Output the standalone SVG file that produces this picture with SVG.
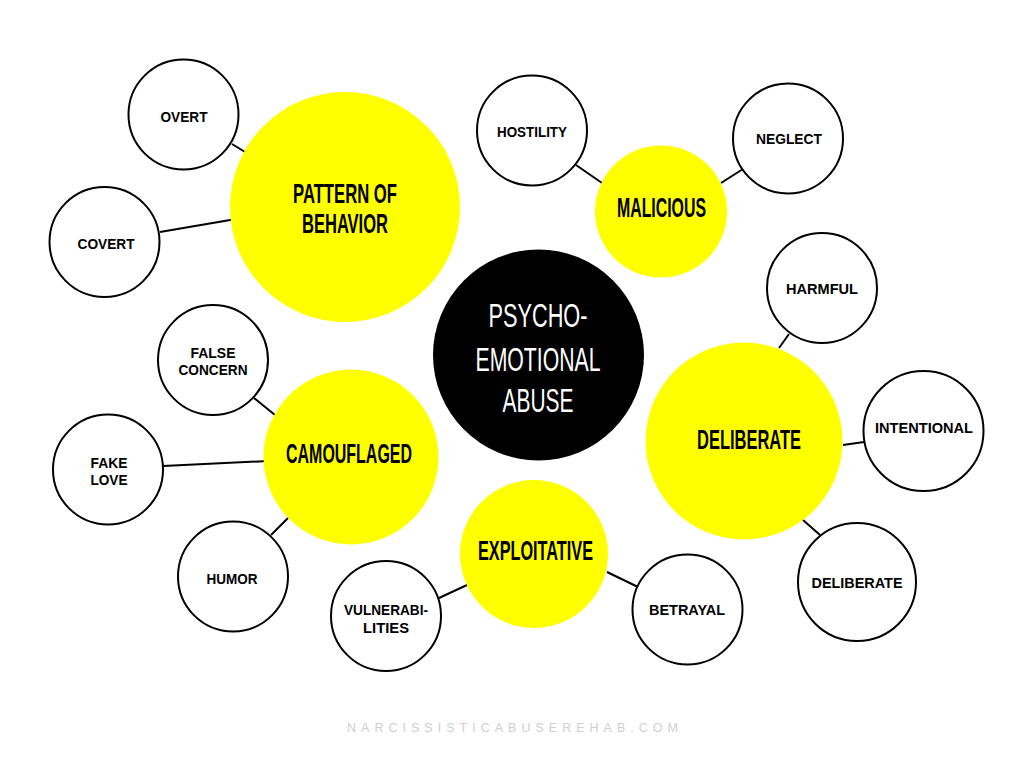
<svg xmlns="http://www.w3.org/2000/svg" width="1024" height="768" viewBox="0 0 1024 768">
<style>
.leaf{fill:#fff;stroke:#000;stroke-width:2}
.cat{fill:#ffff00}
.hub{fill:#000}
.lt{font-family:"Liberation Sans",Arial,sans-serif;font-weight:bold;font-size:15px;fill:#000;text-anchor:middle}
.ct{font-family:"Liberation Sans",Arial,sans-serif;font-weight:bold;font-size:28px;fill:#000;text-anchor:middle}
.ht{font-family:"Liberation Sans",Arial,sans-serif;font-size:33.5px;fill:#fff;text-anchor:middle}
.ft{font-family:"Liberation Sans",Arial,sans-serif;font-size:12.5px;fill:#cfcfcf;text-anchor:middle}
#connectors line{stroke:#000;stroke-width:2}
</style>
<rect width="1024" height="768" fill="#fff"/>
<g id="connectors">
<line x1="232" y1="144" x2="245" y2="152"/>
<line x1="160" y1="232" x2="236" y2="219"/>
<line x1="576" y1="165" x2="602" y2="183"/>
<line x1="721" y1="183" x2="743" y2="169"/>
<line x1="789" y1="334" x2="779" y2="348"/>
<line x1="843" y1="445" x2="864" y2="442"/>
<line x1="803" y1="520" x2="820" y2="535"/>
<line x1="607" y1="572" x2="638" y2="587"/>
<line x1="439" y1="598" x2="467" y2="585"/>
<line x1="254" y1="398" x2="275" y2="415"/>
<line x1="163" y1="466" x2="268" y2="461"/>
<line x1="271" y1="535" x2="288" y2="518"/>
</g>
<g id="hub">
<circle class="hub" cx="538.5" cy="355" r="105.5"/>
<text class="ht" x="538" y="327" textLength="99" lengthAdjust="spacingAndGlyphs">PSYCHO-</text>
<text class="ht" x="538" y="371" textLength="125" lengthAdjust="spacingAndGlyphs">EMOTIONAL</text>
<text class="ht" x="538" y="412" textLength="71" lengthAdjust="spacingAndGlyphs">ABUSE</text>
</g>
<g id="pattern">
<circle class="cat" cx="345" cy="207" r="115"/>
<text class="ct" x="345" y="203" textLength="104" lengthAdjust="spacingAndGlyphs">PATTERN OF</text>
<text class="ct" x="345" y="233" textLength="86" lengthAdjust="spacingAndGlyphs">BEHAVIOR</text>
</g>
<g id="malicious">
<circle class="cat" cx="661" cy="211.5" r="66"/>
<text class="ct" x="661.5" y="217" textLength="89" lengthAdjust="spacingAndGlyphs">MALICIOUS</text>
</g>
<g id="deliberate">
<circle class="cat" cx="744" cy="441" r="98.5"/>
<text class="ct" x="749" y="449" textLength="104" lengthAdjust="spacingAndGlyphs">DELIBERATE</text>
</g>
<g id="exploitative">
<circle class="cat" cx="534" cy="554" r="74"/>
<text class="ct" x="535.5" y="560" textLength="115" lengthAdjust="spacingAndGlyphs">EXPLOITATIVE</text>
</g>
<g id="camouflaged">
<circle class="cat" cx="351" cy="457" r="87.5"/>
<text class="ct" x="349" y="463" textLength="126" lengthAdjust="spacingAndGlyphs">CAMOUFLAGED</text>
</g>
<g id="overt">
<circle class="leaf" cx="183.5" cy="114.5" r="55"/>
<text class="lt" x="184" y="121.5" textLength="47" lengthAdjust="spacingAndGlyphs">OVERT</text>
</g>
<g id="covert">
<circle class="leaf" cx="104.5" cy="242" r="55"/>
<text class="lt" x="106" y="248.5" textLength="57" lengthAdjust="spacingAndGlyphs">COVERT</text>
</g>
<g id="hostility">
<circle class="leaf" cx="532" cy="130.5" r="55"/>
<text class="lt" x="532" y="136.5" textLength="70" lengthAdjust="spacingAndGlyphs">HOSTILITY</text>
</g>
<g id="neglect">
<circle class="leaf" cx="788" cy="138.5" r="55"/>
<text class="lt" x="789" y="143.5" textLength="66" lengthAdjust="spacingAndGlyphs">NEGLECT</text>
</g>
<g id="harmful">
<circle class="leaf" cx="822" cy="288" r="55"/>
<text class="lt" x="822" y="293.5" textLength="72" lengthAdjust="spacingAndGlyphs">HARMFUL</text>
</g>
<g id="intentional">
<circle class="leaf" cx="923.5" cy="431" r="60"/>
<text class="lt" x="924" y="432.5" textLength="98" lengthAdjust="spacingAndGlyphs">INTENTIONAL</text>
</g>
<g id="deliberate-leaf">
<circle class="leaf" cx="857" cy="582" r="59"/>
<text class="lt" x="857" y="587.5" textLength="91" lengthAdjust="spacingAndGlyphs">DELIBERATE</text>
</g>
<g id="betrayal">
<circle class="leaf" cx="687.5" cy="609.5" r="55"/>
<text class="lt" x="687" y="614.5" textLength="76" lengthAdjust="spacingAndGlyphs">BETRAYAL</text>
</g>
<g id="vulnerabilities">
<circle class="leaf" cx="386" cy="616" r="55"/>
<text class="lt" x="386" y="614.5" textLength="84" lengthAdjust="spacingAndGlyphs">VULNERABI-</text>
<text class="lt" x="386" y="632.5" textLength="46" lengthAdjust="spacingAndGlyphs">LITIES</text>
</g>
<g id="humor">
<circle class="leaf" cx="233" cy="576.5" r="55"/>
<text class="lt" x="232" y="583.5" textLength="51" lengthAdjust="spacingAndGlyphs">HUMOR</text>
</g>
<g id="fake-love">
<circle class="leaf" cx="108" cy="469.5" r="55"/>
<text class="lt" x="109" y="467.5" textLength="37" lengthAdjust="spacingAndGlyphs">FAKE</text>
<text class="lt" x="109" y="484.5" textLength="37" lengthAdjust="spacingAndGlyphs">LOVE</text>
</g>
<g id="false-concern">
<circle class="leaf" cx="213" cy="360" r="55"/>
<text class="lt" x="213" y="357.5" textLength="45" lengthAdjust="spacingAndGlyphs">FALSE</text>
<text class="lt" x="213" y="374.5" textLength="69" lengthAdjust="spacingAndGlyphs">CONCERN</text>
</g>
<text class="ft" x="512.5" y="732" textLength="331" lengthAdjust="spacing">NARCISSISTICABUSEREHAB.COM</text>
</svg>
